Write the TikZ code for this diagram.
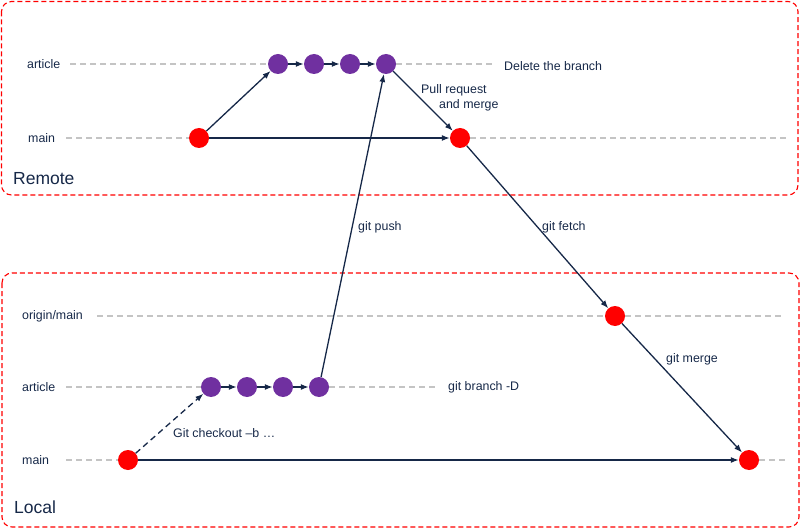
\documentclass[tikz,border=0pt]{standalone}
\usepackage{fontspec}
\setmainfont{Liberation Sans}
\usetikzlibrary{arrows.meta}
\definecolor{navy}{RGB}{22,40,72}
\definecolor{cpurple}{RGB}{112,48,160}
\definecolor{cred}{RGB}{255,0,0}
\definecolor{lgray}{RGB}{196,196,196}
\tikzset{
  commitred/.style={circle,fill=cred,minimum size=20pt,inner sep=0pt},
  commitpur/.style={circle,fill=cpurple,minimum size=20pt,inner sep=0pt},
  lbl/.style={text=navy,font=\fontsize{12.4}{14.5}\selectfont,inner sep=0pt},
  biglbl/.style={text=navy,font=\fontsize{17.5}{20}\selectfont,inner sep=0pt},
  guide/.style={draw=lgray,line width=1.1pt,dash pattern=on 6pt off 4pt},
  zone/.style={draw=cred,line width=1.1pt,dash pattern=on 5pt off 3pt,rounded corners=10pt},
  flow/.style={draw=navy,line width=1.3pt,-{Latex[length=8pt,width=6pt]}},
  flowdash/.style={flow,dash pattern=on 6pt off 4pt},
}
\begin{document}
\begin{tikzpicture}[x=1pt,y=-1pt]
\useasboundingbox (0,0) rectangle (800,529);
% zones
\draw[zone] (1.5,1.5) rectangle (798,195);
\draw[zone] (2,273) rectangle (799,527);
\node[biglbl,anchor=base west] (remote) at (13,185) {Remote};
\node[biglbl,anchor=base west] (local) at (14,513) {Local};
% remote labels
\node[lbl,anchor=west] (rart) at (27,64) {article};
\node[lbl,anchor=west] (rmain) at (28,138) {main};
% local labels
\node[lbl,anchor=west] (lorig) at (22,316) {origin/main};
\node[lbl,anchor=west] (lart) at (22,387) {article};
\node[lbl,anchor=west] (lmain) at (22,460) {main};
% remote commits
\node[commitred] (rm1) at (199,138) {};
\node[commitred] (rm2) at (460,138) {};
\node[commitpur] (ra1) at (278,64) {};
\node[commitpur] (ra2) at (314,64) {};
\node[commitpur] (ra3) at (350,64) {};
\node[commitpur] (ra4) at (386,64) {};
% local commits
\node[commitred] (lo1) at (615,316) {};
\node[commitred] (lm1) at (128,460) {};
\node[commitred] (lm2) at (749,460) {};
\node[commitpur] (la1) at (211,387) {};
\node[commitpur] (la2) at (247,387) {};
\node[commitpur] (la3) at (283,387) {};
\node[commitpur] (la4) at (319,387) {};
% guide coordinates
\coordinate (g1a) at (70,64);   \coordinate (g1b) at (495,64);
\coordinate (g2a) at (66,138);  \coordinate (g2b) at (787,138);
\coordinate (g3a) at (97,316);  \coordinate (g3b) at (785,316);
\coordinate (g4a) at (66,387);  \coordinate (g4b) at (435,387);
\coordinate (g5a) at (66,460);  \coordinate (g5b) at (787,460);
\draw[guide] (g1a) -- (ra1.west);
\draw[guide] (ra4.east) -- (g1b);
\draw[guide] (g2a) -- (rm1.west);
\draw[guide] (rm2.east) -- (g2b);
\draw[guide] (g3a) -- (lo1.west);
\draw[guide] (lo1.east) -- (g3b);
\draw[guide] (g4a) -- (la1.west);
\draw[guide] (la4.east) -- (g4b);
\draw[guide] (g5a) -- (lm1.west);
\draw[guide] (lm2.east) -- (g5b);
\node[lbl,anchor=west] (del) at (504,66) {Delete the branch};
\node[lbl,anchor=west] (gbd) at (448,387) {git branch -D};
% remote arrows
\draw[flow] (rm1) -- (ra1);
\draw[flow] (ra1) -- (ra2);
\draw[flow] (ra2) -- (ra3);
\draw[flow] (ra3) -- (ra4);
\draw[flow] (rm1) -- (rm2);
\draw[flow] (ra4) -- (rm2);
\node[lbl,anchor=north west,align=left] (prm) at (421,84) {Pull request\\[1pt]\hspace*{18pt}and merge};
% between
\draw[flow] (la4) -- (ra4);
\node[lbl,anchor=west] (push) at (358,227) {git push};
\draw[flow] (rm2) -- (lo1);
\node[lbl,anchor=west] (fetch) at (542,227) {git fetch};
\draw[flow] (lo1) -- (lm2);
\node[lbl,anchor=west] (merge) at (666,359) {git merge};
% local arrows
\draw[flowdash] (lm1) -- (la1);
\node[lbl,anchor=west] (chk) at (173,433) {Git checkout –b …};
\draw[flow] (la1) -- (la2);
\draw[flow] (la2) -- (la3);
\draw[flow] (la3) -- (la4);
\draw[flow] (lm1) -- (lm2);
\end{tikzpicture}
\end{document}
